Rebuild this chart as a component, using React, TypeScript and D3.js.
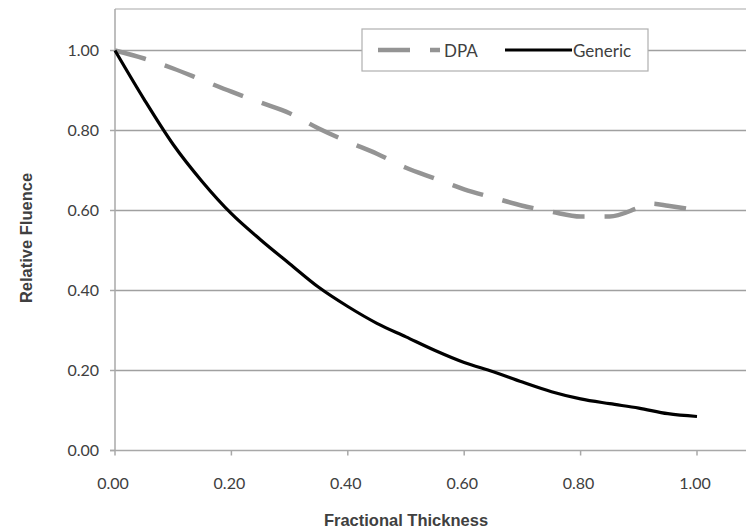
import React from "react";
import * as d3 from "d3";

const thickness = [0, 0.05, 0.1, 0.15, 0.2, 0.25, 0.3, 0.35, 0.4, 0.45, 0.5, 0.55, 0.6, 0.65, 0.7, 0.75, 0.8, 0.85, 0.9, 0.92, 0.95, 1.0];
const dpa = [1.0, 0.98, 0.955, 0.926, 0.897, 0.87, 0.843, 0.805, 0.772, 0.742, 0.707, 0.68, 0.653, 0.632, 0.612, 0.597, 0.585, 0.585, 0.607, 0.617, 0.612, 0.6];
const genericX = [0, 0.05, 0.1, 0.15, 0.2, 0.25, 0.3, 0.35, 0.4, 0.45, 0.5, 0.55, 0.6, 0.65, 0.7, 0.75, 0.8, 0.85, 0.9, 0.95, 1.0];
const generic = [1.0, 0.878, 0.765, 0.672, 0.592, 0.527, 0.467, 0.408, 0.36, 0.318, 0.284, 0.25, 0.22, 0.197, 0.171, 0.147, 0.129, 0.117, 0.106, 0.092, 0.085];
const xTicks = [0, 0.2, 0.4, 0.6, 0.8, 1.0];
const yTicks = [0, 0.2, 0.4, 0.6, 0.8, 1.0];
const seriesNames = ["DPA", "Generic"];

const W = 746;
const H = 529;

export default function App() {
  const x = d3.scaleLinear().domain([0, 1]).range([115, 697]);
  const y = d3.scaleLinear().domain([0, 1]).range([450.5, 50.5]);
  const plotTop = 9;
  const plotRight = 760;

  const line = d3
    .line<[number, number]>()
    .x((d) => x(d[0]))
    .y((d) => y(d[1]))
    .curve(d3.curveMonotoneX);

  const dpaPts = thickness.map((t, i) => [t, dpa[i]] as [number, number]);
  const genPts = genericX.map((t, i) => [t, generic[i]] as [number, number]);

  const gridColor = "#a0a0a0";
  const tickFont = "Lato, 'Open Sans', sans-serif";
  const titleFont = "'Liberation Sans', Arial, sans-serif";

  return (
    <svg width={W} height={H} style={{ position: "absolute", left: 0, top: 0, background: "#fff" }}>
      <rect x={0} y={0} width={W} height={H} fill="#fff" />
      {/* plot border */}
      <line x1={x(0)} x2={plotRight} y1={plotTop} y2={plotTop} stroke="#c4c4c4" strokeWidth={1.5} />
      {/* gridlines */}
      {yTicks.filter((t) => t > 0).map((t) => (
        <line key={t} x1={x(0)} x2={plotRight} y1={y(t)} y2={y(t)} stroke={gridColor} strokeWidth={1.6} />
      ))}
      {/* y axis */}
      <line x1={x(0)} x2={x(0)} y1={plotTop} y2={y(0)} stroke="#a8a8a8" strokeWidth={1.5} />
      {yTicks.map((t) => (
        <g key={t}>
          <line x1={x(0) - 5} x2={x(0)} y1={y(t)} y2={y(t)} stroke="#a8a8a8" strokeWidth={1.5} />
          <text x={99} y={y(t)} dy="0.35em" textAnchor="end" fontFamily={tickFont} fontSize={16} fill="#404040">
            {t.toFixed(2)}
          </text>
        </g>
      ))}
      {/* x axis */}
      <line x1={x(0) - 5} x2={plotRight} y1={y(0)} y2={y(0)} stroke="#a8a8a8" strokeWidth={1.5} />
      {xTicks.map((t) => (
        <g key={t}>
          <line x1={x(t)} x2={x(t)} y1={y(0)} y2={y(0) + 5} stroke="#a8a8a8" strokeWidth={1.5} />
          <text x={x(t) - 2} y={483} dy="0.35em" textAnchor="middle" fontFamily={tickFont} fontSize={16} fill="#404040">
            {t.toFixed(2)}
          </text>
        </g>
      ))}
      {/* axis titles */}
      <text x={406} y={520} dy="0.35em" textAnchor="middle" fontFamily={titleFont} fontWeight="bold" fontSize={16.5} fill="#404040">
        Fractional Thickness
      </text>
      <text
        transform={`translate(26,238) rotate(-90)`}
        dy="0.35em"
        textAnchor="middle"
        fontFamily={titleFont}
        fontWeight="bold"
        fontSize={16.5}
        fill="#404040"
      >
        Relative Fluence
      </text>
      {/* series */}
      <path d={line(dpaPts) || ""} fill="none" stroke="#949494" strokeWidth={4.5} strokeDasharray="32,20" />
      <path d={line(genPts) || ""} fill="none" stroke="#000" strokeWidth={3.2} strokeLinejoin="round" />
      {/* legend */}
      <rect x={362} y={29} width={286} height={42} fill="#fff" stroke="#b0b0b0" strokeWidth={1.2} />
      <line x1={378} x2={440} y1={50} y2={50} stroke="#949494" strokeWidth={4.5} strokeDasharray="32,20" />
      <text x={444} y={51} dy="0.35em" fontFamily={tickFont} fontSize={17} fill="#404040">
        {seriesNames[0]}
      </text>
      <line x1={505} x2={572} y1={50} y2={50} stroke="#000" strokeWidth={3.2} />
      <text x={573} y={51} dy="0.35em" fontFamily={tickFont} fontSize={17} fill="#404040">
        {seriesNames[1]}
      </text>
    </svg>
  );
}
